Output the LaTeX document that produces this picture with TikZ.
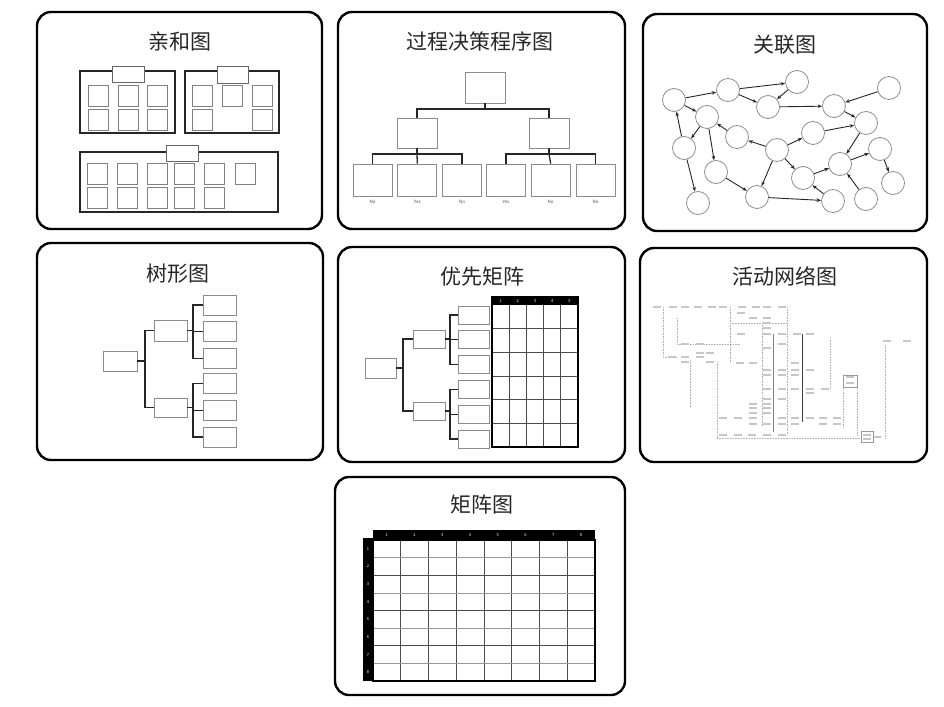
\documentclass[tikz,border=0pt]{standalone}
\usepackage{fontspec}
\newfontfamily\cjk{Noto Sans CJK SC}
\usetikzlibrary{arrows.meta, positioning}

\begin{document}
\begin{tikzpicture}[
    x=1pt, y=-1pt,
    panel/.style={draw=black, line width=2.4pt, rounded corners=14pt},
    title/.style={font=\cjk\fontsize{21}{24}\selectfont, text=black!85, inner sep=0pt},
    group/.style={draw=black!85, line width=1.3pt},
    sbox/.style={draw=black!50, line width=0.8pt, fill=white, inner sep=0pt, minimum width=20pt, minimum height=21pt},
    head/.style={draw=black!60, line width=0.8pt, fill=white, inner sep=0pt, minimum width=32pt, minimum height=16pt},
    dbox/.style={draw=black!45, line width=0.8pt, inner sep=0pt, minimum width=39pt, minimum height=31pt},
    tbox/.style={draw=black!45, line width=0.8pt, inner sep=0pt, minimum width=33pt, minimum height=20pt},
    pbox/.style={draw=black!45, line width=0.8pt, inner sep=0pt, minimum width=31pt, minimum height=18pt},
    link/.style={draw=black!85, line width=1.3pt},
    note/.style={font=\cjk\fontsize{4.5}{5}\selectfont, text=black!70, inner sep=0pt},
    num/.style={font=\cjk\fontsize{4}{4}\selectfont, text=white, inner sep=0pt},
    bubble/.style={circle, draw=black!45, line width=0.8pt, minimum size=23pt, inner sep=0pt},
    arrow/.style={-{Stealth[length=4.5pt, width=3.5pt]}, draw=black!85, line width=0.9pt},
    tag/.style={fill=black!22, inner sep=0pt, minimum width=7.5pt, minimum height=2.6pt},
    trace/.style={draw=black!30, line width=0.6pt, densely dotted},
    cell/.style={draw=black!70, line width=0.7pt},
    soft/.style={draw=black!40, line width=0.7pt}
]
\useasboundingbox (0,0) rectangle (944,706);

% panels
\draw[panel] (37,12) rectangle (322,229);
\draw[panel] (338,12) rectangle (625,229);
\draw[panel] (643,14) rectangle (927,231);
\draw[panel] (37,243) rectangle (323,460);
\draw[panel] (338,247) rectangle (625,462);
\draw[panel] (640,248) rectangle (927,462);
\draw[panel] (335,477) rectangle (625,695);

\node[title] (t1) at (180,42) {亲和图};
\node[title] (t2) at (480,42) {过程决策程序图};
\node[title] (t3) at (785,45) {关联图};
\node[title] (t4) at (178,274) {树形图};
\node[title] (t5) at (482,277) {优先矩阵};
\node[title] (t6) at (785,276) {活动网络图};
\node[title] (t7) at (482,505) {矩阵图};

% affinity diagram
\draw[group] (80,71) rectangle (175,133);
\draw[group] (185,71) rectangle (279,133);
\draw[group] (80,152) rectangle (278,212);
\foreach \x/\i in {98/1,128/2,157.5/3} {
  \node[sbox] (a\i) at (\x,95.5) {};
  \node[sbox] (b\i) at (\x,119.5) {};
}
\foreach \x/\i in {202/1,232.5/2,262.5/3}
  \node[sbox] (c\i) at (\x,96) {};
\node[sbox] (c4) at (202,119.5) {};
\node[sbox] (c5) at (262.5,119.5) {};
\foreach \x/\i in {97/1,127/2,157/3,184/4,214/5,245/6}
  \node[sbox] (e\i) at (\x,173.5) {};
\foreach \x/\i in {97/1,127/2,157/3,184/4,214/5}
  \node[sbox] (f\i) at (\x,198) {};
\node[head] (ha) at (128.5,74) {};
\node[head, minimum width=31pt, minimum height=17pt] (hb) at (232.5,74.5) {};
\node[head] (hc) at (182,153) {};

% process decision program chart
\node[dbox, minimum width=40pt] (dtop) at (485,87.5) {};
\node[dbox, minimum width=40pt, minimum height=30pt] (dl) at (417,133) {};
\node[dbox, minimum width=40pt, minimum height=30pt] (dr) at (549,133) {};
\node[dbox, minimum height=32pt] (d1) at (372.5,180) {};
\node[dbox, minimum height=32pt, right=5pt of d1] (d2) {};
\node[dbox, minimum height=32pt, right=5pt of d2] (d3) {};
\node[dbox, minimum height=32pt, right=4pt of d3] (d4) {};
\node[dbox, minimum height=32pt, right=5pt of d4] (d5) {};
\node[dbox, minimum height=32pt, right=5pt of d5] (d6) {};
\coordinate (dj) at (485,109);
\coordinate (djl) at (417,154);
\coordinate (djr) at (549,154);
\draw[link] (dtop.south) -- (dj) -| (dl.north);
\draw[link] (dj) -| (dr.north);
\draw[link] (dl.south) -- (djl) -| (d1.north);
\draw[link] (djl) -| (d3.north);
\draw[link] (djl) -- (d2.north);
\draw[link] (dr.south) -- (djr) -| (d4.north);
\draw[link] (djr) -| (d6.north);
\draw[link] (djr) -- (d5.north);
\foreach \i/\w in {1/No,2/Yes,3/No,4/Yes,5/No,6/No}
  \node[note, below=4pt of d\i] {\w};

% interrelationship digraph
\foreach \i/\x/\y in {1/674/100, 2/728/90, 3/797/82, 4/768/107, 5/889/88,
    6/834/106, 7/707/117, 8/866/123, 9/737/137, 10/813/133, 11/684/148,
    12/777/150, 13/880/149, 14/840/164, 15/716/172, 16/803/178, 17/893/183,
    18/757/197, 19/698/203, 20/833/201, 21/866/199}
  \node[bubble] (n\i) at (\x,\y) {};
\foreach \a/\b in {1/2, 2/3, 3/4, 2/4, 4/6, 5/6, 6/8, 1/7, 11/1, 7/11, 7/15,
    9/7, 12/9, 12/10, 10/8, 8/14, 11/19, 15/18, 12/18, 12/16, 16/14, 14/13,
    13/17, 20/16, 21/14, 18/20}
  \draw[arrow] (n\a) -- (n\b);

% tree diagram
\node[tbox, minimum width=34pt] (r4) at (120,361) {};
\node[tbox, minimum height=21pt] (m4a) at (170.5,330.5) {};
\node[tbox, minimum height=19pt] (m4b) at (170.5,407.5) {};
\node[tbox] (t1) at (219.5,305) {};
\node[tbox, below=6pt of t1] (t2) {};
\node[tbox, below=6pt of t2] (t3) {};
\node[tbox, below=4pt of t3] (t4) {};
\node[tbox, below=6pt of t4] (t5) {};
\node[tbox, below=6pt of t5] (t6) {};
\coordinate (j4) at (145,361);
\coordinate (k4a) at (193,330.5);
\coordinate (k4b) at (193,407.5);
\draw[link] (r4.east) -- (j4) |- (m4a.west);
\draw[link] (j4) |- (m4b.west);
\draw[link] (m4a.east) -- (k4a);
\draw[link] (m4b.east) -- (k4b);
\foreach \i in {1,2,3} \draw[link] (k4a) |- (t\i.west);
\foreach \i in {4,5,6} \draw[link] (k4b) |- (t\i.west);

% prioritization matrix
\node[pbox, minimum height=20pt] (r5) at (380.5,368) {};
\node[pbox, minimum width=32pt] (m5a) at (429,339) {};
\node[pbox, minimum width=32pt] (m5b) at (429,411) {};
\node[pbox] (p1) at (474,315) {};
\node[pbox, below=6pt of p1] (p2) {};
\node[pbox, below=6pt of p2] (p3) {};
\node[pbox, below=6pt of p3] (p4) {};
\node[pbox, below=6pt of p4] (p5) {};
\node[pbox, below=6pt of p5] (p6) {};
\coordinate (j5) at (403,368);
\coordinate (k5a) at (450,339);
\coordinate (k5b) at (450,411);
\draw[link] (r5.east) -- (j5) |- (m5a.west);
\draw[link] (j5) |- (m5b.west);
\draw[link] (m5a.east) -- (k5a);
\draw[link] (m5b.east) -- (k5b);
\foreach \i in {1,2,3} \draw[link] (k5a) |- (p\i.west);
\foreach \i in {4,5,6} \draw[link] (k5b) |- (p\i.west);
\fill[black] (492,297) rectangle (578,305);
\foreach \x in {509.2,526.4,543.6,560.8} \draw[cell] (\x,305) -- (\x,447);
\foreach \y in {328.7,352.3,376,399.7,423.3} \draw[cell] (492,\y) -- (578,\y);
\draw[line width=1.5pt] (492,297) rectangle (578,447);
\foreach \i in {1,...,5} \node[num] at (492+17.2*\i-8.6,301) {\i};

% activity network diagram
\foreach \x/\y/\z/\w in {663/307/663/357, 677/318/677/344, 690/360/690/408,
    717/362/717/438, 730/307/730/363, 762/323/762/427, 787/307/787/435,
    830/338/830/388, 843/382/843/427, 857/382/857/435, 885/345/885/438,
    730/323/787/323, 677/344/740/344, 663/357/677/357, 717/438/870/438}
  \draw[trace] (\x,\y) -- (\z,\w);
\draw[draw=black!50, line width=0.7pt] (773,334) -- (773,432);
\draw[draw=black!75, line width=0.9pt] (802,334) -- (802,422);
\foreach \x/\y in {657/307, 673/307, 685/307, 698/307, 712/307, 723/307,
    742/307, 756/307, 767/307, 782/307, 741/313, 753/318, 767/318, 767/323,
    767/328, 741/334, 767/334, 782/334, 797/334, 810/334, 887/341, 907/341,
    685/344, 700/344, 782/344, 767/348, 700/353, 710/353, 672/357, 685/357,
    700/357, 685/362, 710/362, 740/363, 753/363, 795/363, 767/370, 782/370,
    795/370, 810/370, 767/375, 782/375, 795/375, 850/377, 850/383, 767/389,
    782/389, 795/389, 810/389, 825/389, 810/393, 767/399, 782/399, 753/404,
    767/404, 753/408, 767/408, 753/413, 767/413, 723/418, 738/418, 753/418,
    782/418, 795/418, 810/418, 823/418, 837/418, 753/424, 767/424, 782/424,
    795/424, 823/424, 837/424, 723/435, 738/435, 752/435, 767/435, 782/435,
    867/435, 867/439, 877/437}
  \node[tag] at (\x,\y) {};
\draw[soft] (843,375) rectangle (857,387);
\draw[soft] (861,431) rectangle (873,442);

% matrix diagram
\fill[black] (373,530) rectangle (595,540);
\fill[black] (363,538) rectangle (373,681);
\foreach \i in {1,...,7} \draw[cell] (373+27.75*\i,540) -- (373+27.75*\i,681);
\foreach \i in {2,4,6} \draw[cell] (373,540+17.625*\i) -- (595,540+17.625*\i);
\foreach \i in {1,3,5,7} \draw[soft] (373,540+17.625*\i) -- (595,540+17.625*\i);
\draw[line width=1.2pt] (373,540) rectangle (595,681);
\foreach \i in {1,...,8} {
  \node[num] at (373+27.75*\i-13.9,535) {\i};
  \node[num] at (368,540+17.625*\i-8.8) {\i};
}
\end{tikzpicture}
\end{document}
